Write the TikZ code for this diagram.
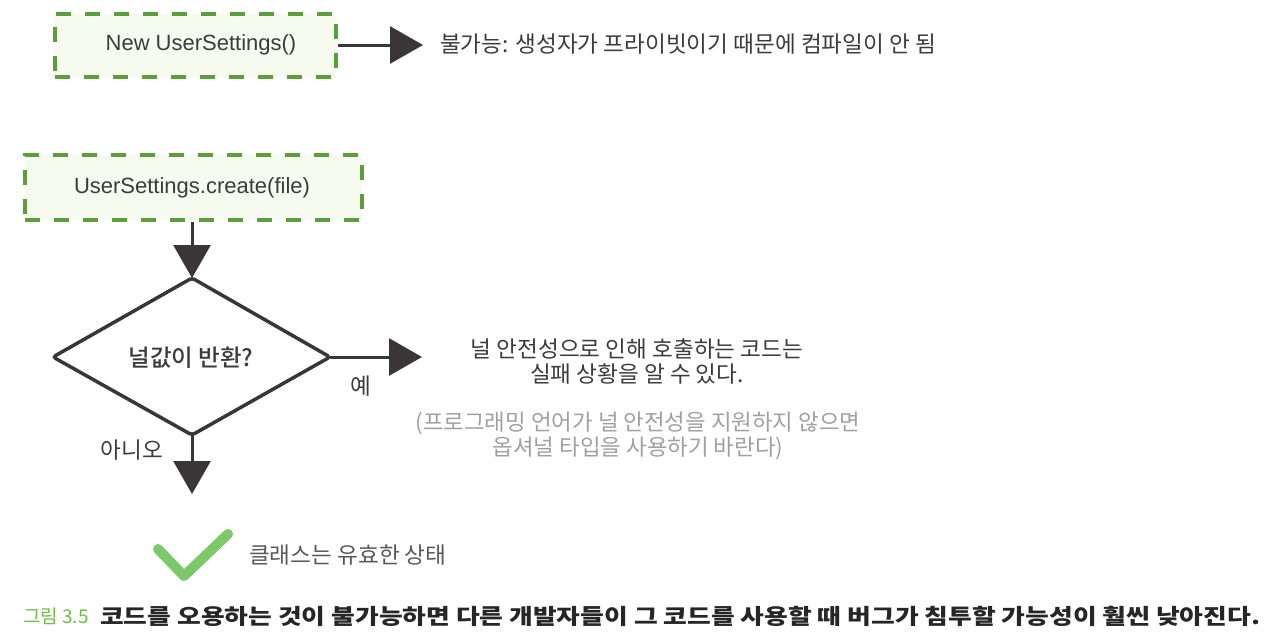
\documentclass[tikz,border=0pt]{standalone}
\usepackage{fontspec}
\setmainfont{Liberation Sans}
\newfontfamily\kr{Noto Sans CJK KR}
\newfontfamily\krm{Noto Sans CJK KR}[UprightFont={* Medium}]
\newfontfamily\krcap{Noto Sans CJK KR}[FakeStretch=1.2]
\usetikzlibrary{arrows.meta,shapes.geometric}
\definecolor{boxgreen}{HTML}{5C9E3C}
\definecolor{boxfill}{HTML}{F7FAEF}
\definecolor{ink}{HTML}{3A3536}
\definecolor{txt}{HTML}{3C3C3C}
\definecolor{softgray}{HTML}{A0A0A0}
\definecolor{checkgreen}{HTML}{7DC96A}
\definecolor{capgreen}{HTML}{6DBE45}
\tikzset{
  dashbox/.style={draw=boxgreen, fill=boxfill, line width=4pt, dash pattern=on 15pt off 14pt, inner sep=0pt},
  flow/.style={draw=ink, line width=3pt, -{Triangle[length=33pt,width=37pt]}},
  lbl/.style={text=txt, font=\kr\fontsize{22.6}{25}\selectfont, inner sep=0pt},
  code/.style={text=txt, font=\fontsize{22}{26}\selectfont},
}
\begin{document}
\begin{tikzpicture}[x=1pt,y=-1pt]
\useasboundingbox (0,0) rectangle (1282,638);
% top box
\node[dashbox, minimum width=281pt, minimum height=63pt] (b1) at (195.5,45) {};
\node[code] (t1) at (201,45) {New UserSettings()};
\coordinate (a1) at (423,45);
\draw[flow] (b1.east |- a1) -- (a1);
\node[lbl, anchor=west] (n1) at (440,44) {불가능: 생성자가 프라이빗이기 때문에 컴파일이 안 됨};
% second box
\node[dashbox, minimum width=337pt, minimum height=65pt] (b2) at (193,187.5) {};
\node[code] (t2) at (192,188) {UserSettings.create(file)};
% diamond
\draw[ink, line width=3.5pt, rounded corners=3pt] (192,278) coordinate (dt) -- (330,357) coordinate (dr) -- (192,435) coordinate (db) -- (53,357) coordinate (dl) -- cycle;
\node[text=txt, font=\krm\fontsize{23.5}{26}\selectfont] (q) at (191,358) {널값이 반환?};
\draw[flow] (b2.south -| dt) -- (dt);
\coordinate (a2) at (422,357);
\draw[flow] (dr) -- (a2);
\node[lbl] (yes) at (361,386) {예};
\coordinate (a3) at (192,494);
\draw[flow] (db) -- (a3);
\node[lbl] (no) at (132,450) {아니오};
% yes text
\node[lbl, align=center] (r1) at (637,361) {널 안전성으로 인해 호출하는 코드는\\실패 상황을 알 수 있다.};
\node[lbl, align=center, text=softgray, font=\kr\fontsize{22.4}{25}\selectfont] (r2) at (638,436) {(프로그래밍 언어가 널 안전성을 지원하지 않으면\\옵셔널 타입을 사용하기 바란다)};
% check
\draw[checkgreen, line width=10pt, line cap=round, line join=round] (158,549) -- (184,576) -- (228,534);
\node[lbl, anchor=west, text=txt!85] (ok) at (249,555) {클래스는 유효한 상태};
% caption
\node[anchor=west, inner sep=0pt, text=capgreen, font=\kr\fontsize{19}{24}\selectfont] (cap1) at (23,616) {그림 3.5};
\node[anchor=west, inner sep=0pt, text=black!85, font=\krcap\bfseries\fontsize{21.5}{26}\selectfont] (cap2) at (100,616) {코드를 오용하는 것이 불가능하면 다른 개발자들이 그 코드를 사용할 때 버그가 침투할 가능성이 훨씬 낮아진다.};
\end{tikzpicture}
\end{document}
